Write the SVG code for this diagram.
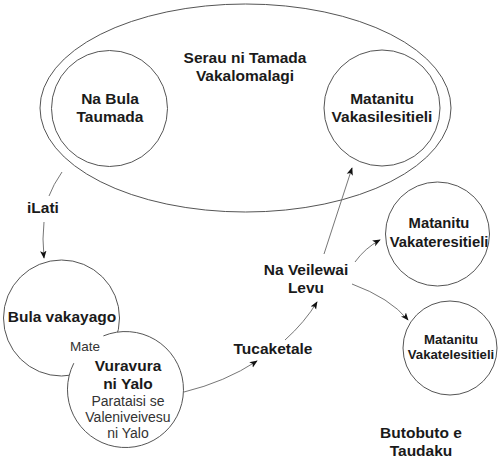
<svg xmlns="http://www.w3.org/2000/svg" width="500" height="467" viewBox="0 0 500 467">
<defs>
<style>
.c{fill:#fff;stroke:#555;stroke-width:1}
.e{fill:none;stroke:#555;stroke-width:1}
.l{fill:none;stroke:#666;stroke-width:0.9}
text{font-family:"Liberation Sans",Arial,sans-serif;fill:#1a1a1a;text-anchor:middle}
.b{font-weight:700;font-size:15.5px}
.s{font-weight:700;font-size:14.8px}
.xs{font-weight:700;font-size:13.2px}
.r{font-weight:400;font-size:14px;fill:#333}
.m{font-weight:400;font-size:13.5px;fill:#333}
</style>
<marker id="a" viewBox="0 0 10 10" refX="9" refY="5" markerWidth="8" markerHeight="8" markerUnits="userSpaceOnUse" orient="auto">
<path d="M0,1 L10,5 L0,9 L2.5,5 Z" fill="#111"/>
</marker>
</defs>
<g id="serau">
<ellipse class="e" cx="245.5" cy="108" rx="205.5" ry="104"/>
<text class="b" x="245" y="63">Serau ni Tamada</text>
<text class="b" x="245" y="81">Vakalomalagi</text>
</g>
<g id="na-bula-taumada">
<circle class="c" cx="109.5" cy="108.5" r="58"/>
<text class="b" x="110" y="104">Na Bula</text>
<text class="b" x="110" y="122">Taumada</text>
</g>
<g id="vakasilesitieli">
<circle class="c" cx="382" cy="108" r="58"/>
<text class="b" x="382" y="104">Matanitu</text>
<text class="b" x="382" y="122">Vakasilesitieli</text>
</g>
<g id="vakateresitieli">
<circle class="c" cx="437.5" cy="234" r="52"/>
<text class="s" x="439" y="228">Matanitu</text>
<text class="s" x="439" y="247">Vakateresitieli</text>
</g>
<g id="vakatelesitieli">
<circle class="c" cx="450" cy="348" r="47"/>
<text class="xs" x="451" y="344">Matanitu</text>
<text class="xs" x="451" y="359">Vakatelesitieli</text>
</g>
<g id="bula-vakayago">
<circle class="c" cx="61.5" cy="318" r="58"/>
<text class="b" x="62" y="322">Bula vakayago</text>
</g>
<g id="vuravura-ni-yalo">
<circle cx="125.5" cy="389.5" r="58" fill="#fff"/>
<path class="e" d="M103.4,335.9 A58,58 0 1 1 73.8,363.2"/>
<text class="m" x="85" y="351">Mate</text>
<text class="b" x="128" y="371">Vuravura</text>
<text class="b" x="128" y="389">ni Yalo</text>
<text class="r" x="128" y="406">Parataisi se</text>
<text class="r" x="128" y="422">Valeniveivesu</text>
<text class="r" x="128" y="438">ni Yalo</text>
</g>
<g id="labels">
<text class="b" x="43" y="213">iLati</text>
<text class="b" x="306" y="275">Na Veilewai</text>
<text class="b" x="306" y="293">Levu</text>
<text class="b" x="273" y="354">Tucaketale</text>
<text class="b" x="421" y="438">Butobuto e</text>
<text class="b" x="421" y="456">Taudaku</text>
</g>
<g id="connectors">
<path class="l" d="M62,172 Q53,185 49,196"/>
<path class="l" d="M44,222 Q42,238 44,258" marker-end="url(#a)"/>
<path class="l" d="M184,392 Q225,382 257,361" marker-end="url(#a)"/>
<path class="l" d="M285,340 Q305,322 317,302" marker-end="url(#a)"/>
<path class="l" d="M324,254 L352,168" marker-end="url(#a)"/>
<path class="l" d="M355,262 Q365,248 380,240" marker-end="url(#a)"/>
<path class="l" d="M352,284 Q390,298 408,320" marker-end="url(#a)"/>
</g>
</svg>
